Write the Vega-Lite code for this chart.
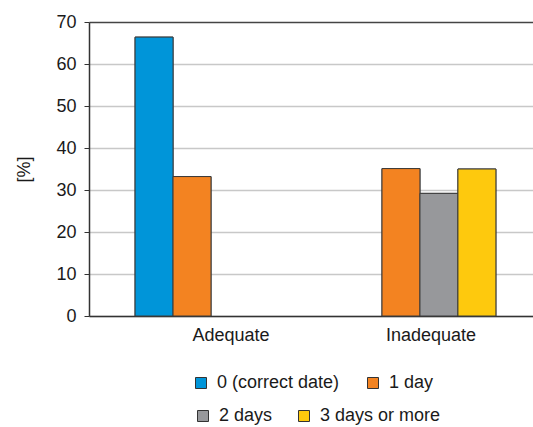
{
  "$schema": "https://vega.github.io/schema/vega-lite/v6.json",
  "autosize": {"type": "none"},
  "width": 444,
  "height": 294,
  "padding": {"left": 89, "top": 22, "right": 0, "bottom": 111},
  "background": "white",
  "config": {"font": "Liberation Sans", "view": {"stroke": null}},
  "data": {
    "values": [
      {"group": "Adequate", "delay": "0 (correct date)", "value": 66.4},
      {"group": "Adequate", "delay": "1 day", "value": 33.2},
      {"group": "Inadequate", "delay": "1 day", "value": 35.1},
      {"group": "Inadequate", "delay": "2 days", "value": 29.2},
      {"group": "Inadequate", "delay": "3 days or more", "value": 35.0}
    ]
  },
  "layer": [
    {
      "mark": {"type": "bar", "stroke": "#3a3a3a", "strokeWidth": 1},
      "encoding": {
        "x": {
          "field": "group", "type": "nominal",
          "scale": {"paddingInner": 0.273, "paddingOuter": 0.199, "align": 0.554},
          "axis": {"title": null, "labelAngle": 0, "ticks": false, "domainColor": "#333", "domainWidth": 1.5, "labelFontSize": 18, "labelColor": "#1a1a1a",
            "labelOffset": {"condition": {"test": "datum.value === 'Adequate'", "value": 20}, "value": 11},
            "labelPadding": 10}
        },
        "xOffset": {"field": "delay", "type": "nominal", "scale": {"domain": ["0 (correct date)", "1 day", "2 days", "3 days or more"]}},
        "y": {
          "field": "value", "type": "quantitative",
          "scale": {"domain": [0, 70]},
          "axis": {
            "values": [0, 10, 20, 30, 40, 50, 60, 70],
            "title": "[%]", "titleFontSize": 18, "titleFontWeight": "normal", "titleColor": "#1a1a1a", "titlePadding": 22,
            "labelFontSize": 18, "labelColor": "#1a1a1a", "labelPadding": 8,
            "tickSize": 5, "tickColor": "#333", "domainColor": "#333", "domainWidth": 1.5,
            "gridColor": {"condition": {"test": "datum.value === 70", "value": "#444"}, "value": "#c8c8c8"},
            "gridWidth": 1.5
          }
        },
        "color": {
          "field": "delay", "type": "nominal",
          "scale": {"domain": ["0 (correct date)", "1 day", "2 days", "3 days or more"], "range": ["#0095d9", "#f38321", "#97989b", "#fec90d"]},
          "legend": {
            "values": ["0 (correct date)", "1 day"],
            "title": null, "orient": "none", "legendX": 103, "legendY": 352, "direction": "horizontal",
            "symbolType": "square", "symbolSize": 121, "symbolStrokeColor": "#333", "symbolStrokeWidth": 1, "symbolOpacity": 1,
            "labelFontSize": 18, "labelColor": "#1a1a1a", "labelOffset": 7, "columnPadding": 24
          }
        }
      }
    },
    {
      "mark": {"type": "bar", "stroke": "#3a3a3a", "strokeWidth": 1},
      "encoding": {
        "x": {"field": "group", "type": "nominal"},
        "xOffset": {"field": "delay", "type": "nominal", "scale": {"domain": ["0 (correct date)", "1 day", "2 days", "3 days or more"]}},
        "y": {"field": "value", "type": "quantitative"},
        "color": {
          "field": "delay", "type": "nominal",
          "scale": {"domain": ["0 (correct date)", "1 day", "2 days", "3 days or more"], "range": ["#0095d9", "#f38321", "#97989b", "#fec90d"]},
          "legend": {
            "values": ["2 days", "3 days or more"],
            "title": null, "orient": "none", "legendX": 105, "legendY": 385, "direction": "horizontal",
            "symbolType": "square", "symbolSize": 121, "symbolStrokeColor": "#333", "symbolStrokeWidth": 1, "symbolOpacity": 1,
            "labelFontSize": 18, "labelColor": "#1a1a1a", "labelOffset": 7, "columnPadding": 22
          }
        }
      }
    }
  ],
  "resolve": {"scale": {"color": "independent"}}
}
